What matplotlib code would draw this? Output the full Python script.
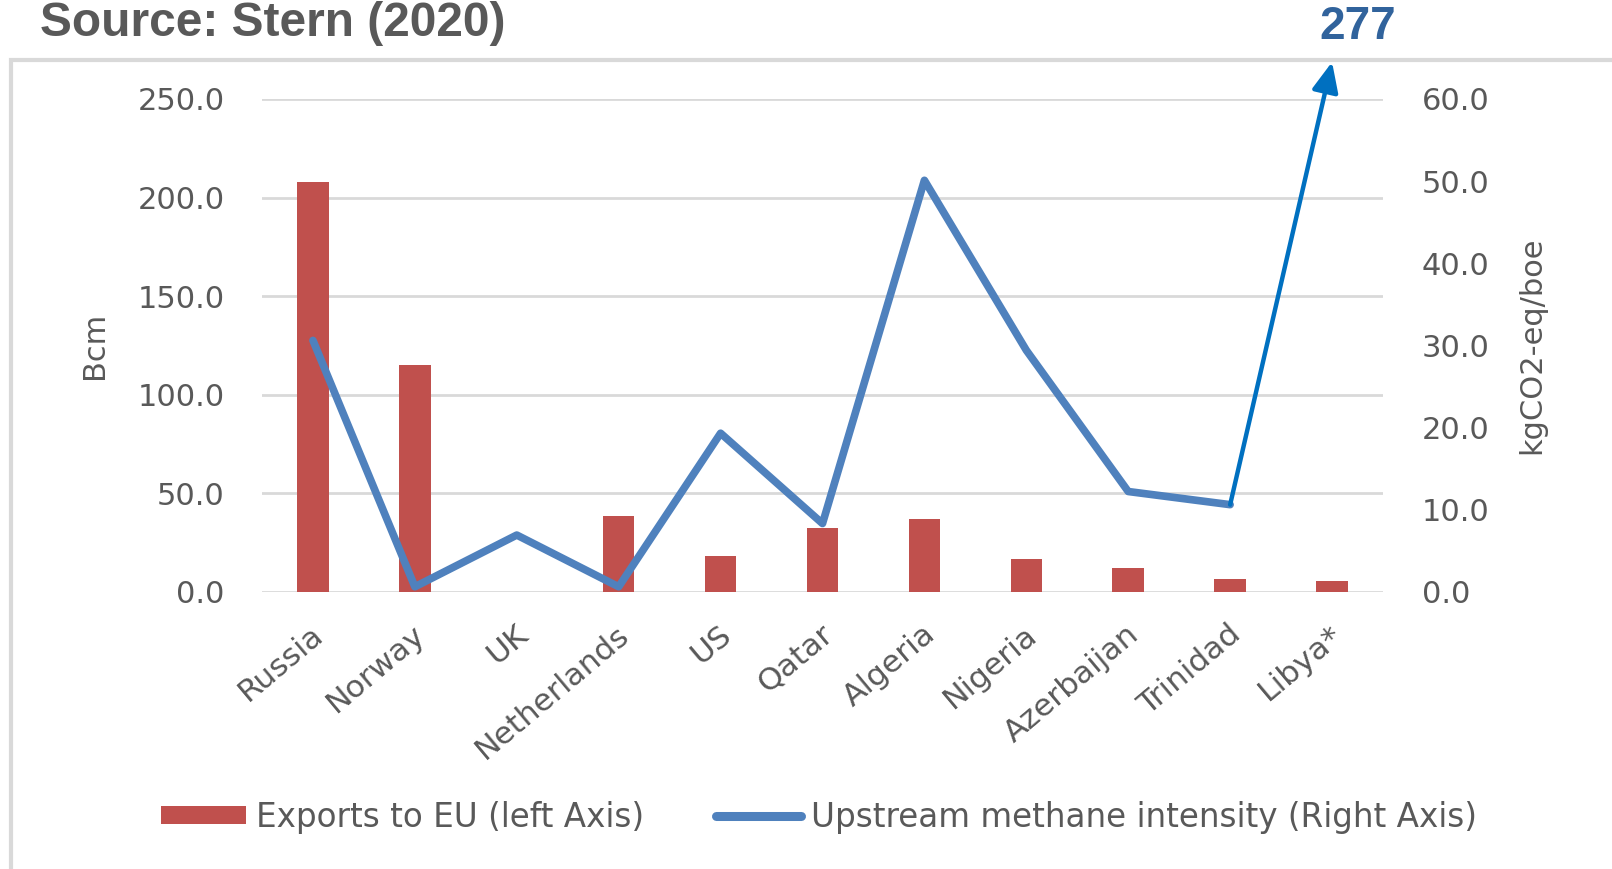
import matplotlib
matplotlib.use("Agg")
import matplotlib.pyplot as plt
import matplotlib.transforms as mtransforms
from matplotlib.patches import Rectangle, Patch
from matplotlib.lines import Line2D
import numpy as np

countries = ["Russia", "Norway", "UK", "Netherlands", "US", "Qatar",
             "Algeria", "Nigeria", "Azerbaijan", "Trinidad", "Libya*"]
exports_bcm = [208, 115, 0, 38.5, 18.3, 32.2, 36.7, 16.4, 11.9, 6.3, 5.4]
# methane intensity, kgCO2-eq/boe (Libya is off the scale)
intensity = [30.6, 0.6, 6.9, 0.6, 19.3, 8.3, 50.1, 29.4, 12.2, 10.6]
libya_intensity = 277

left_ticks = [0, 50, 100, 150, 200, 250]
right_ticks = [0, 10, 20, 30, 40, 50, 60]

W, H = 1612, 869
red = "#C0504D"
blue = "#4F81BD"
arrow_blue = "#0070C0"
grey_txt = "#595959"
grid_c = "#D9D9D9"

plt.rcParams["font.family"] = ["DejaVu Sans"]

fig = plt.figure(figsize=(W / 100, H / 100), dpi=100)
ax = fig.add_axes([262 / W, 277.3 / H, 1121 / W, 492.7 / H])
ax2 = ax.twinx()

x = np.arange(len(countries))
ax.bar(x, exports_bcm, width=0.31, color=red, zorder=2)
ax.set_ylim(0, 250)
ax.set_xlim(-0.5, len(countries) - 0.5)
ax.set_yticks(left_ticks)
ax.set_yticklabels([f"{v:.1f}" for v in left_ticks])
ax.grid(axis="y", color=grid_c, lw=2, zorder=0)
ax.set_axisbelow(True)

ax2.plot(x[:len(intensity)], intensity, color=blue, lw=5.5,
         solid_joinstyle="round", solid_capstyle="round", zorder=3)
ax2.set_ylim(0, 60)
ax2.set_yticks(right_ticks)
ax2.set_yticklabels([f"{v:.1f}" for v in right_ticks])

# Libya goes off the chart: arrow up past the top
top = 60 + 37 / (492.7 / 60)
ax2.annotate("", xy=(x[-1], top), xytext=(x[-2], intensity[-1]),
             arrowprops=dict(arrowstyle="-|>,head_length=0.9,head_width=0.4",
                             color=arrow_blue, lw=3.2, mutation_scale=20,
                             shrinkA=0, shrinkB=0),
             annotation_clip=False)
fig.text(1358 / W, 1 - 27 / H, str(libya_intensity), ha="center", va="center",
         fontsize=33, fontweight="bold", color="#31639C", family="Liberation Sans")

for a in (ax, ax2):
    for s in a.spines.values():
        s.set_visible(False)
    a.tick_params(length=0, colors=grey_txt, labelsize=22)

ax.tick_params(axis="y", pad=27)
ax2.tick_params(axis="y", pad=28)

ax.set_xticks(x)
ax.set_xticklabels(countries, rotation=40, ha="right", va="center",
                   rotation_mode="anchor", fontsize=22.5)
ax.tick_params(axis="x", pad=28)
off = mtransforms.ScaledTranslation(7 / 100, 0, fig.dpi_scale_trans)
for lab in ax.get_xticklabels():
    lab.set_transform(lab.get_transform() + off)

ax.set_ylabel("Bcm", fontsize=22, color=grey_txt)
ax.yaxis.set_label_coords((95 - 262) / 1121, 0.5)
ax.yaxis.label.set_verticalalignment("center")
ax2.set_ylabel("kgCO2-eq/boe", fontsize=22, color=grey_txt)
ax2.yaxis.set_label_coords((1532 - 262) / 1121, 0.5)
ax2.yaxis.label.set_verticalalignment("center")

handles = [Patch(facecolor=red, edgecolor="none"),
           Line2D([0], [0], color=blue, lw=6.5, solid_capstyle="round")]
fig.legend(handles, ["Exports to EU (left Axis)",
                     "Upstream methane intensity (Right Axis)"],
           loc="center", bbox_to_anchor=(819 / W, 1 - 817 / H), ncol=2,
           frameon=False, fontsize=23.5, labelcolor=grey_txt,
           handlelength=2.6, handleheight=0.5, handletextpad=0.3,
           columnspacing=2.2)

fig.text(40 / W, 1 - 36 / H, "Source: Stern (2020)", ha="left", va="baseline",
         fontsize=34.5, fontweight="bold", color=grey_txt, family="Liberation Sans")

fig.add_artist(Rectangle((10.5 / W, -0.05), 1.5, (H - 59.5) / H + 0.05,
                         transform=fig.transFigure, fill=False,
                         ec=grid_c, lw=3))

fig.savefig("out.png", dpi=100)
